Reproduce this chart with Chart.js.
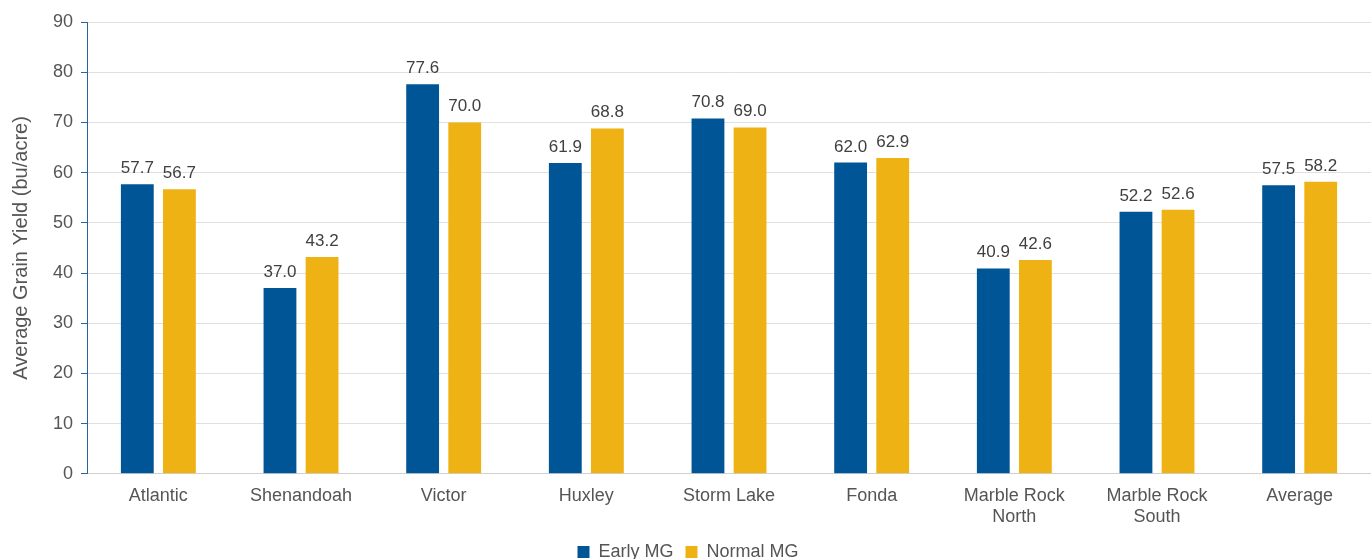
<!DOCTYPE html>
<html>
<head>
<meta charset="utf-8">
<script src="https://cdn.jsdelivr.net/npm/chart.js@4"></script>
<style>
  html, body { margin: 0; padding: 0; background: #fff; overflow: hidden; }
  #wrap { width: 1371px; height: 571px; position: relative; }
</style>
</head>
<body>
<div id="wrap"><canvas id="yieldChart"></canvas></div>
<script>
// data
const categories = ['Atlantic', 'Shenandoah', 'Victor', 'Huxley', 'Storm Lake', 'Fonda',
                    ['Marble Rock', 'North'], ['Marble Rock', 'South'], 'Average'];
const earlyMG  = [57.7, 37.0, 77.6, 61.9, 70.8, 62.0, 40.9, 52.2, 57.5];
const normalMG = [56.7, 43.2, 70.0, 68.8, 69.0, 62.9, 42.6, 52.6, 58.2];
const seriesNames = ['Early MG', 'Normal MG'];
const yTitle = 'Average Grain Yield (bu/acre)';

const FONT = '"Liberation Sans", Arial, sans-serif';

// value labels above each bar
const barLabels = {
    id: 'barLabels',
    afterDatasetsDraw(chart) {
        const ctx = chart.ctx;
        ctx.save();
        ctx.font = '17px ' + FONT;
        ctx.fillStyle = '#404040';
        ctx.textAlign = 'center';
        ctx.textBaseline = 'alphabetic';
        chart.data.datasets.forEach((ds, i) => {
            chart.getDatasetMeta(i).data.forEach((bar, j) => {
                ctx.fillText(ds.data[j].toFixed(1), bar.x, bar.y - 11);
            });
        });
        ctx.restore();
    }
};

new Chart(document.getElementById('yieldChart'), {
    type: 'bar',
    data: {
        labels: categories,
        datasets: [
            { label: seriesNames[0], data: earlyMG, backgroundColor: '#005596' },
            { label: seriesNames[1], data: normalMG, backgroundColor: '#EFB215' }
        ]
    },
    options: {
        responsive: true,
        maintainAspectRatio: false,
        animation: false,
        categoryPercentage: 0.59,
        barPercentage: 0.78,
        layout: { padding: { left: 5, right: 0, top: 22, bottom: 0 } },
        scales: {
            x: {
                grid: { display: false },
                border: { color: '#d0d0d0' },
                ticks: { color: '#555', font: { family: FONT, size: 18 }, padding: 3 }
            },
            y: {
                min: 0, max: 90,
                ticks: { stepSize: 10, color: '#555', font: { family: FONT, size: 18 }, padding: 8 },
                grid: { color: '#e0e0e0', tickColor: '#2a64a0', tickLength: 6 },
                border: { color: '#2a64a0', width: 1 },
                title: { display: true, text: yTitle, color: '#555', font: { family: FONT, size: 20 }, padding: { bottom: 12 } }
            }
        },
        plugins: {
            legend: {
                position: 'bottom',
                labels: { color: '#555', font: { family: FONT, size: 18 }, boxWidth: 12, boxHeight: 12, padding: 12 }
            },
            tooltip: { enabled: false }
        }
    },
    plugins: [barLabels]
});
</script>
</body>
</html>
